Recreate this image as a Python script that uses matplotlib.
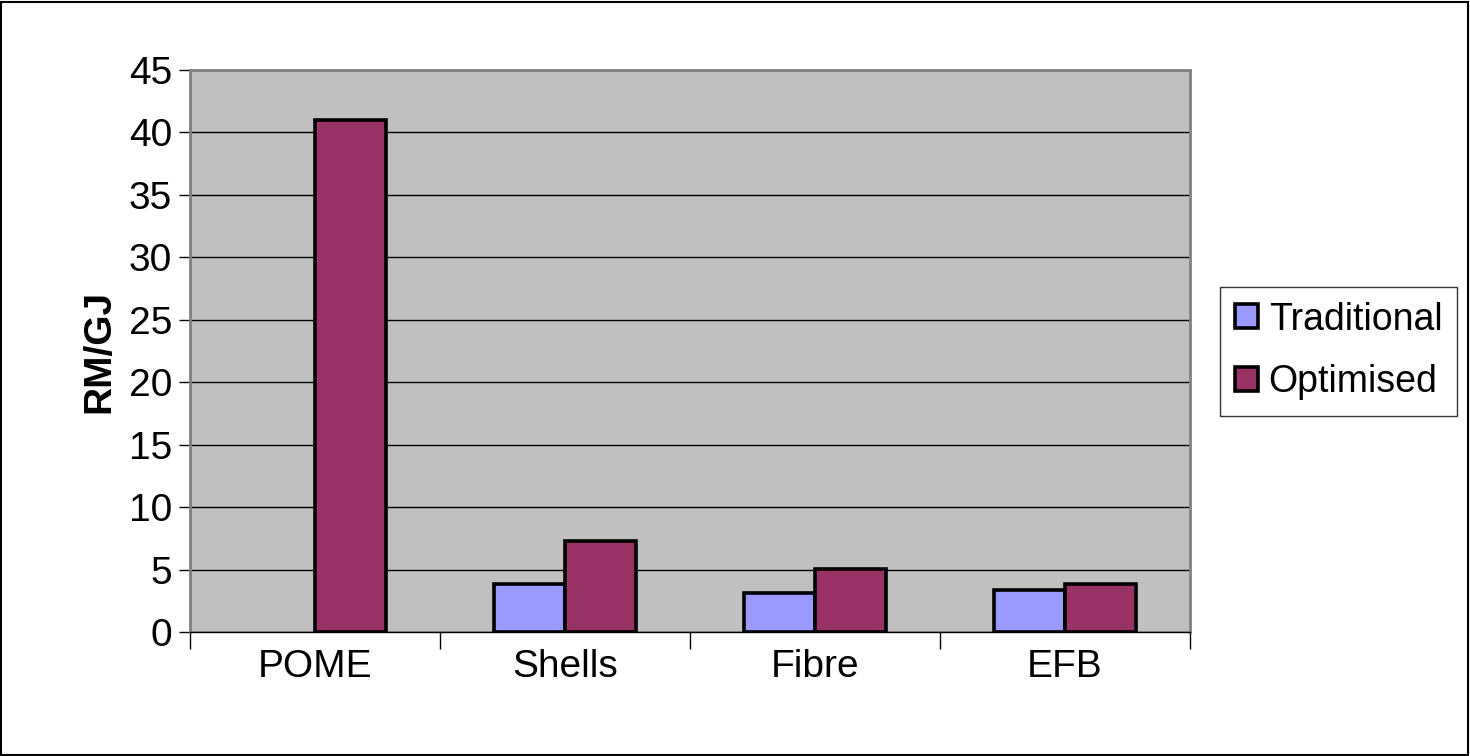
import matplotlib

matplotlib.use("Agg")
import matplotlib.pyplot as plt
import numpy as np
from matplotlib.patches import Rectangle

plt.rcParams["font.family"] = ["Liberation Sans", "DejaVu Sans"]

categories = ["POME", "Shells", "Fibre", "EFB"]
# POME has no traditional bar in the chart
traditional = [np.nan, 3.84, 3.1, 3.34]
optimised = [41.0, 7.26, 5.04, 3.82]
series_names = ["Traditional", "Optimised"]
y_ticks = list(range(0, 50, 5))


def main():
    fig = plt.figure(figsize=(14.7, 7.56), dpi=100)
    ax = fig.add_axes([190 / 1470, (756 - 632) / 756, 1000 / 1470, 562 / 756])

    x = np.arange(len(categories))
    width = 1 / 3.5
    ax.bar(x - width / 2, traditional, width, color="#9999FF", edgecolor="black",
           linewidth=2.6, label=series_names[0], zorder=3)
    ax.bar(x + width / 2, optimised, width, color="#993366", edgecolor="black",
           linewidth=2.6, label=series_names[1], zorder=3)

    ax.set_facecolor("#C0C0C0")
    ax.set_xlim(-0.5, len(categories) - 0.5)
    ax.set_ylim(0, 45)
    ax.set_yticks(y_ticks)
    ax.tick_params(axis="y", labelsize=28, length=8, width=1, color="black", pad=5)
    ax.yaxis.grid(True, color="black", linewidth=1, zorder=1)
    ax.set_axisbelow(True)

    # category labels centred, tick marks at the boundaries
    ax.set_xticks(np.arange(len(categories) + 1) - 0.5)
    ax.set_xticklabels([])
    ax.set_xticks(x, minor=True)
    ax.set_xticklabels(categories, minor=True, fontsize=28)
    ax.tick_params(axis="x", which="major", length=12, width=1, color="black")
    ax.tick_params(axis="x", which="minor", length=0, pad=12)

    for side in ["top", "right", "left"]:
        ax.spines[side].set_color("#808080")
        ax.spines[side].set_linewidth(2)
    ax.spines["bottom"].set_color("black")
    ax.spines["bottom"].set_linewidth(1)

    ax.set_ylabel("RM/GJ", fontsize=28, fontweight="bold", labelpad=8)

    leg = ax.legend(loc="center left", bbox_to_anchor=(1.03, 0.5), fontsize=27,
                    frameon=True, fancybox=False, edgecolor="black",
                    handlelength=0.6, handleheight=0.6, handletextpad=0.3,
                    labelspacing=0.72, borderpad=0.4, borderaxespad=0)
    leg.get_frame().set_linewidth(1)

    fig.patches.append(Rectangle((0.0005, 0.001), 0.998, 0.997, transform=fig.transFigure,
                                 fill=False, edgecolor="black", linewidth=1.5))

    fig.savefig("out.png", dpi=100)
    plt.close(fig)


if __name__ == "__main__":
    main()
